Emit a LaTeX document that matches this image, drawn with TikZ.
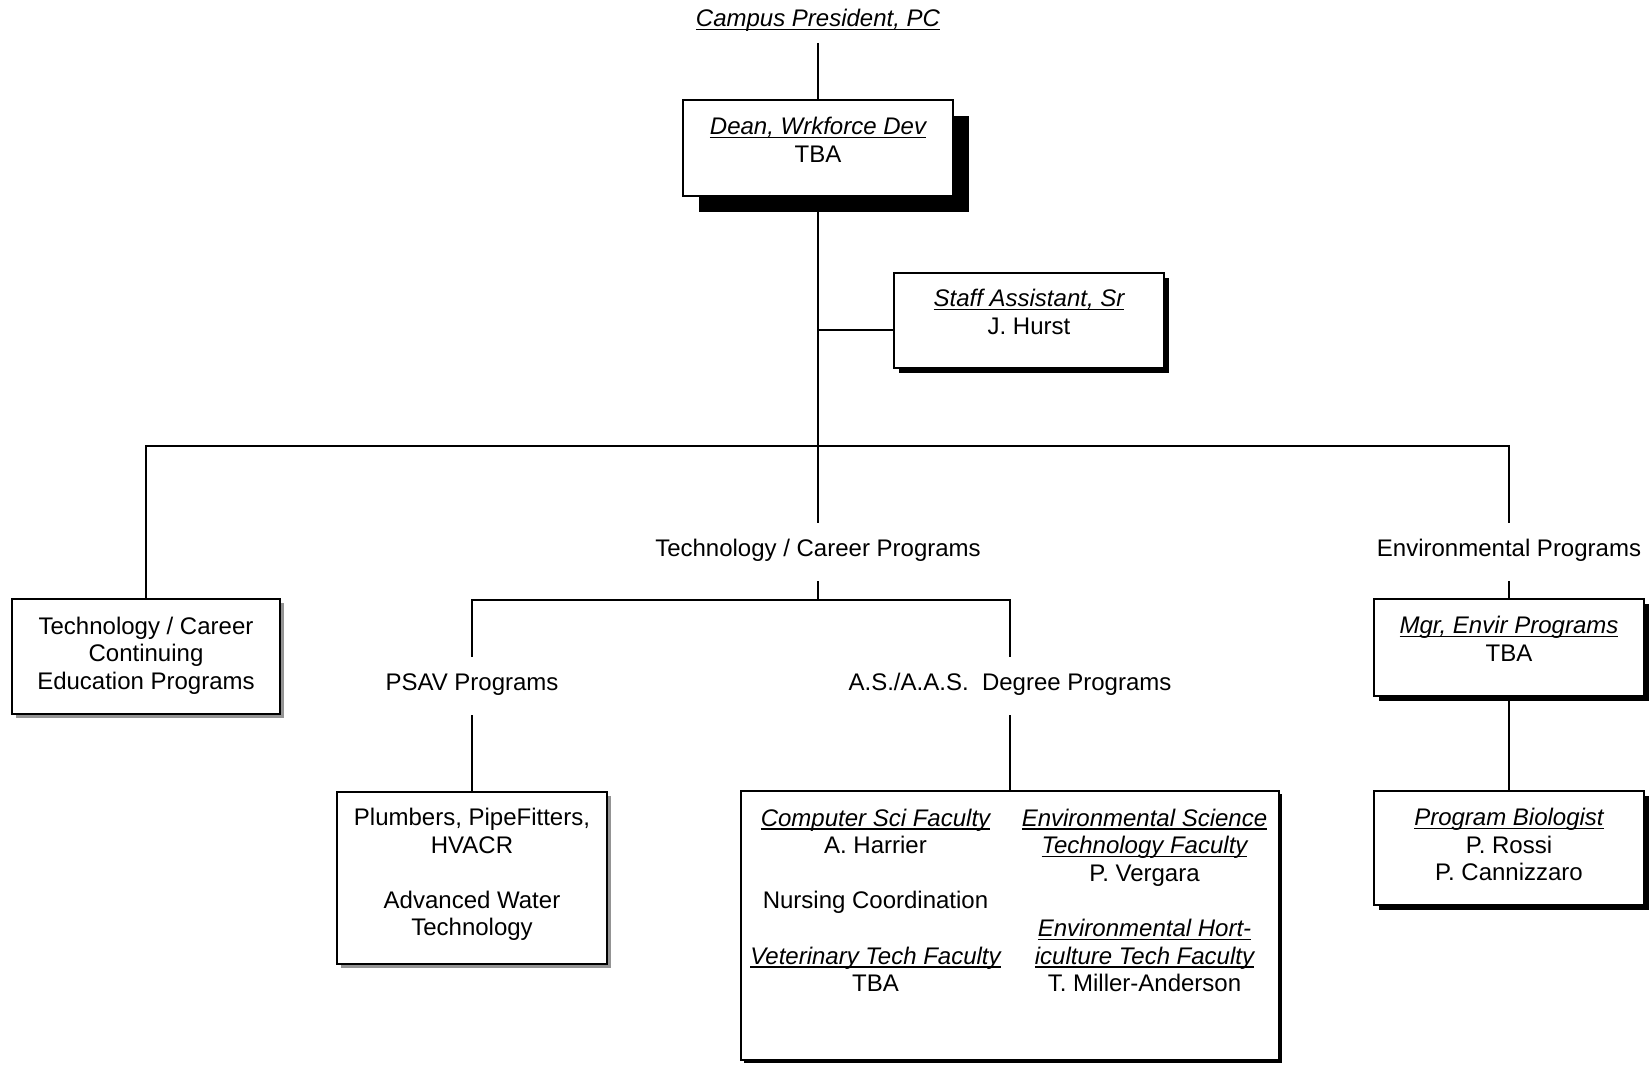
\documentclass[tikz,border=0pt]{standalone}
\usepackage{fontspec}
\setmainfont{Liberation Sans}
\usetikzlibrary{shadows}
\newcommand\fs{\fontsize{24pt}{27.6pt}\selectfont}
\newsavebox\ulbox
\newcommand\uit[1]{\sbox\ulbox{\itshape #1}\rlap{\rule[-3.5pt]{\wd\ulbox}{1.4pt}}\usebox\ulbox}
\tikzset{
  box/.style={draw, line width=1.6pt, fill=white, inner sep=0pt},
  bshd/.style={drop shadow={shadow xshift=#1, shadow yshift=-#1, opacity=1, fill=black}},
  gshd/.style={drop shadow={shadow xshift=#1, shadow yshift=-#1, opacity=1, fill=black!42}},
  txt/.style={inner sep=0pt, align=center, font=\fs, anchor=north},
  lab/.style={inner xsep=0pt, inner ysep=10pt, text height=23pt, text depth=15pt, font=\fs, anchor=base},
  conn/.style={line width=1.6pt},
}
\begin{document}
\begin{tikzpicture}[x=1pt,y=-1pt]
\useasboundingbox[fill=white] (0,0) rectangle (1652,1065);

% labels
\node[lab, inner ysep=0pt, text depth=16pt] (pres) at (818,26.7) {\uit{Campus President, PC}};
\node[lab] (tcp) at (818,556) {Technology / Career Programs};
\node[lab] (envl) at (1509,556) {Environmental Programs};
\node[lab] (psav) at (472,690) {PSAV Programs};
\node[lab] (asl) at (1010,690) {A.S./A.A.S.\ \ Degree Programs};

% junctions
\coordinate (j0) at (818,446);
\coordinate (js) at (818,330);
\coordinate (jt) at (818,600);

% boxes
\node[box, bshd=16pt, minimum width=270pt, minimum height=96pt] (dean) at (818,148) {};
\node[box, bshd=5pt, minimum width=270pt, minimum height=95pt] (staff) at (1029,320.5) {};
\node[box, gshd=4pt, minimum width=268pt, minimum height=115pt] (tce) at (146,656.5) {};
\node[box, bshd=5pt, minimum width=270pt, minimum height=97pt] (mgr) at (1509,647.5) {};
\node[box, bshd=5pt, minimum width=270pt, minimum height=114pt] (bio) at (1509,848) {};
\node[box, gshd=4pt, minimum width=270pt, minimum height=172pt] (plumb) at (472,878) {};
\node[box, bshd=3pt, minimum width=538pt, minimum height=269pt] (fac) at (1010,925.5) {};

% connectors
\draw[conn] (pres.south) -- (dean.north);
\draw[conn] (dean.south) -- (j0) -- (tcp.north);
\draw[conn] (js) -- (staff.west |- js);
\draw[conn] (tce.north) |- (j0);
\draw[conn] (j0) -| (envl.north);
\draw[conn] (envl.south) -- (mgr.north);
\draw[conn] (mgr.south) -- (bio.north);
\draw[conn] (tcp.south) -- (jt);
\draw[conn] (psav.north) |- (jt) -| (asl.north);
\draw[conn] (psav.south) -- (plumb.north);
\draw[conn] (asl.south) -- (fac.north);

% box texts
\node[txt] (deant) at (818,115.2) {\strut\uit{Dean, Wrkforce Dev}\\TBA};
\node[txt] (stafft) at (1029,287.4) {\strut\uit{Staff Assistant, Sr}\\J. Hurst};
\node[txt] (tcet) at (146,614.7) {\strut Technology / Career\\Continuing\\Education Programs};
\node[txt] (mgrt) at (1509,614) {\strut\uit{Mgr, Envir Programs}\\TBA};
\node[txt] (biot) at (1509,806) {\strut\uit{Program Biologist}\\P. Rossi\\P. Cannizzaro};
\node[txt] (plumbt) at (472,806) {\strut Plumbers, PipeFitters,\\HVACR\\\strut\\Advanced Water\\Technology};
\node[txt] (facl) at (875.5,806.5) {\strut\uit{Computer Sci Faculty}\\A. Harrier\\\strut\\Nursing Coordination\\\strut\\\uit{Veterinary Tech Faculty}\\TBA};
\node[txt] (facr) at (1144.5,806.5) {\strut\uit{Environmental Science}\\\uit{Technology Faculty}\\P. Vergara\\\strut\\\uit{Environmental Hort-}\\\uit{iculture Tech Faculty}\\T. Miller-Anderson};
\end{tikzpicture}
\end{document}
